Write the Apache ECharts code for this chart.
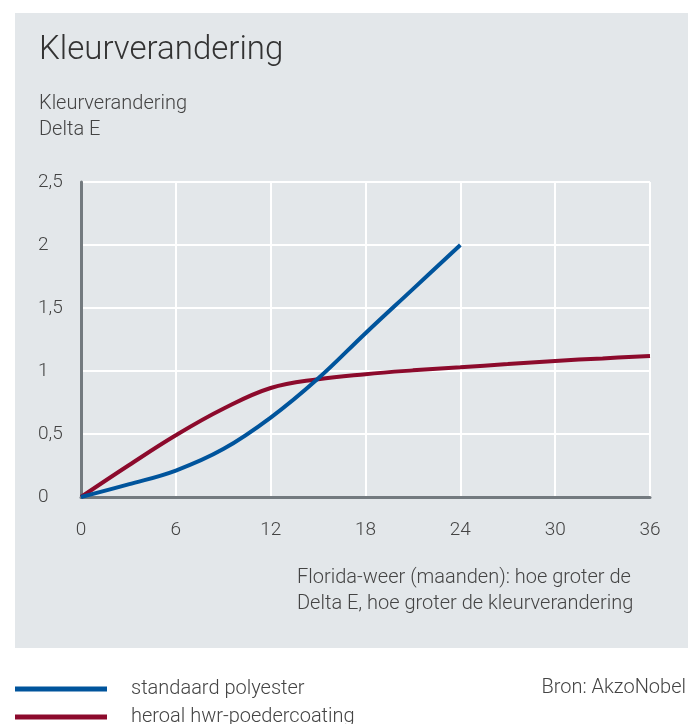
<!DOCTYPE html>
<html>
<head>
<meta charset="utf-8">
<script src="https://cdn.jsdelivr.net/npm/echarts@6/dist/echarts.min.js"></script>
<style>
  html, body { margin: 0; padding: 0; background: #fff; }
  #chart { width: 688px; height: 724px; }
</style>
</head>
<body>
<div id="chart"></div>
<script>
// maanden (Florida-weer)
var monthsBlue = [0, 3, 6, 9, 12, 15, 18, 21, 24]
var monthsRed = [0, 3, 6, 9, 12, 15, 18, 21, 24, 27, 30, 33, 36]
// Delta E
var polyester = [0, 0.1, 0.21, 0.38, 0.63, 0.94, 1.3, 1.65, 2.0]
var heroal = [0, 0.25, 0.49, 0.7, 0.865, 0.935, 0.975, 1.005, 1.03, 1.055, 1.08, 1.1, 1.12]
var seriesNames = ['standaard polyester', 'heroal hwr-poedercoating']

var font = 'Roboto'
var textColor = '#444'

function pairs (xs, ys) {
  return ys.map(function (y, i) { return [xs[i], y] })
}

function legendItem (name, top) {
  return {
    data: [name],
    left: 10,
    top: top,
    icon: 'rect',
    itemWidth: 92,
    itemHeight: 5,
    textStyle: { fontFamily: font, fontSize: 20, fontWeight: 300, color: textColor, padding: [0, 0, 0, 19] }
  }
}

var chart = echarts.init(document.getElementById('chart'))
chart.setOption({
  backgroundColor: '#fff',
  animation: false,
  title: {
    text: 'Kleurverandering',
    left: 34,
    top: 29,
    textStyle: { fontFamily: font, fontSize: 33, fontWeight: 300, color: '#333' },
    subtext: 'Kleurverandering\nDelta E',
    itemGap: 24,
    subtextStyle: { fontFamily: font, fontSize: 20, fontWeight: 300, color: textColor, lineHeight: 26 }
  },
  graphic: [
    {
      type: 'rect',
      z: -10,
      shape: { x: 15, y: 13, width: 673, height: 635 },
      style: { fill: '#e3e7ea' }
    },
    {
      type: 'text',
      left: 297,
      top: 565,
      style: {
        text: 'Florida-weer (maanden): hoe groter de\nDelta E, hoe groter de kleurverandering',
        font: '300 20px Roboto',
        fill: textColor,
        lineHeight: 26
      }
    },
    {
      type: 'text',
      right: 2,
      top: 678,
      style: { text: 'Bron: AkzoNobel', font: '300 20px Roboto', fill: textColor }
    }
  ],
  legend: [legendItem(seriesNames[0], 674), legendItem(seriesNames[1], 702)],
  grid: { left: 81, right: 38, top: 182, bottom: 227 },
  xAxis: {
    type: 'value',
    min: 0,
    max: 36,
    interval: 6,
    axisLine: { lineStyle: { color: '#737a7f', width: 3 } },
    axisTick: { show: false },
    axisLabel: { margin: 24, fontFamily: font, fontSize: 19, fontWeight: 300, color: textColor },
    splitLine: { show: true, lineStyle: { color: '#fff', width: 2 } }
  },
  yAxis: {
    type: 'value',
    min: 0,
    max: 2.5,
    interval: 0.5,
    axisLine: { show: true, lineStyle: { color: '#737a7f', width: 3 } },
    axisTick: { show: false },
    axisLabel: {
      margin: 43,
      align: 'left',
      fontFamily: font,
      fontSize: 19,
      fontWeight: 300,
      color: textColor,
      formatter: function (v) { return String(v).replace('.', ',') }
    },
    splitLine: { show: true, lineStyle: { color: '#fff', width: 2 } }
  },
  series: [
    {
      name: seriesNames[0],
      type: 'line',
      data: pairs(monthsBlue, polyester),
      smooth: 0.4,
      showSymbol: false,
      itemStyle: { color: '#00549c' },
      lineStyle: { color: '#00549c', width: 4 },
      z: 3
    },
    {
      name: seriesNames[1],
      type: 'line',
      data: pairs(monthsRed, heroal),
      smooth: 0.4,
      showSymbol: false,
      itemStyle: { color: '#8c0a2c' },
      lineStyle: { color: '#8c0a2c', width: 4 },
      z: 2
    }
  ]
})
</script>
</body>
</html>
